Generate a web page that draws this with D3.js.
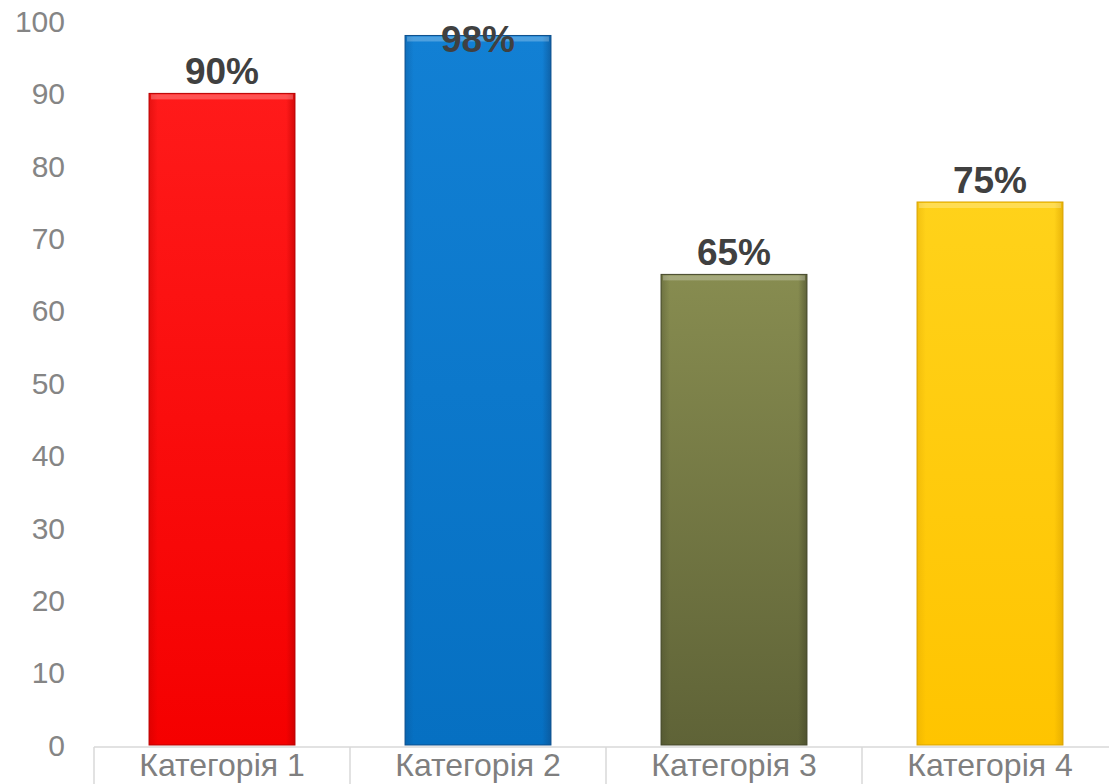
<!DOCTYPE html>
<html>
<head>
<meta charset="utf-8">
<script src="https://cdn.jsdelivr.net/npm/d3@7"></script>
<style>
  body { margin: 0; background: #fff; }
  svg { display: block; font-family: "Liberation Sans", Arial, sans-serif; }
</style>
</head>
<body>
<svg id="chart" width="1109" height="784"></svg>
<script>
// chart data
const categories = ["Категорія 1", "Категорія 2", "Категорія 3", "Категорія 4"];
const values = [90, 98, 65, 75];
const yTicks = [0, 10, 20, 30, 40, 50, 60, 70, 80, 90, 100];

// bar colours: [top, bottom, edge]
const barColors = [
  ["#ff1a1a", "#f50000", "#b80000"],
  ["#1280d4", "#0670c2", "#0d4f8c"],
  ["#878c50", "#5f6337", "#44472a"],
  ["#ffd21a", "#ffc400", "#d9a200"]
];

const svg = d3.select("#chart");
const width = +svg.attr("width");
const height = +svg.attr("height");

const x = d3.scaleBand()
  .domain(categories)
  .range([94, 1118])
  .paddingInner(0.43)
  .paddingOuter(0.215);

const y = d3.scaleLinear()
  .domain([0, 100])
  .range([745, 21]);

// gradients for the bevelled look
const defs = svg.append("defs");
barColors.forEach((c, i) => {
  const g = defs.append("linearGradient")
    .attr("id", "grad" + i)
    .attr("x1", 0).attr("y1", 0).attr("x2", 0).attr("y2", 1);
  g.append("stop").attr("offset", "0%").attr("stop-color", c[0]);
  g.append("stop").attr("offset", "100%").attr("stop-color", c[1]);

  const h = defs.append("linearGradient")
    .attr("id", "side" + i)
    .attr("x1", 0).attr("y1", 0).attr("x2", 1).attr("y2", 0);
  h.append("stop").attr("offset", "0%").attr("stop-color", c[2]).attr("stop-opacity", 0.35);
  h.append("stop").attr("offset", "6%").attr("stop-color", c[2]).attr("stop-opacity", 0);
  h.append("stop").attr("offset", "94%").attr("stop-color", c[2]).attr("stop-opacity", 0);
  h.append("stop").attr("offset", "100%").attr("stop-color", c[2]).attr("stop-opacity", 0.6);
});

// y tick labels (no axis line)
svg.append("g")
  .selectAll("text")
  .data(yTicks)
  .enter()
  .append("text")
  .attr("x", 65)
  .attr("y", d => y(d))
  .attr("dy", "0.36em")
  .attr("text-anchor", "end")
  .attr("fill", "#858585")
  .style("font-size", "30px")
  .text(d => d);

// x axis with category separators
const axisY = 747;
svg.append("line")
  .attr("x1", 94).attr("x2", width)
  .attr("y1", axisY).attr("y2", axisY)
  .attr("stroke", "#d9d9d9")
  .attr("stroke-width", 1.5);

const step = x.step();
const bounds = categories.map((c, i) => x.range()[0] + i * step).concat([x.range()[0] + categories.length * step]);
svg.selectAll(".sep")
  .data(bounds)
  .enter()
  .append("line")
  .attr("class", "sep")
  .attr("x1", d => d).attr("x2", d => d)
  .attr("y1", axisY).attr("y2", height)
  .attr("stroke", "#d9d9d9")
  .attr("stroke-width", 1.5);

// bars
const bars = svg.selectAll(".bar")
  .data(values)
  .enter()
  .append("g")
  .attr("class", "bar");

bars.append("rect")
  .attr("x", (d, i) => x(categories[i]))
  .attr("y", d => y(d))
  .attr("width", x.bandwidth())
  .attr("height", d => y(0) - y(d))
  .attr("fill", (d, i) => `url(#grad${i})`)
  .attr("stroke", (d, i) => barColors[i][2])
  .attr("stroke-width", 1);

bars.append("rect")
  .attr("x", (d, i) => x(categories[i]))
  .attr("y", d => y(d))
  .attr("width", x.bandwidth())
  .attr("height", d => y(0) - y(d))
  .attr("fill", (d, i) => `url(#side${i})`);

// top bevel highlight
bars.append("rect")
  .attr("x", (d, i) => x(categories[i]) + 2)
  .attr("y", d => y(d) + 1)
  .attr("width", x.bandwidth() - 4)
  .attr("height", 5)
  .attr("fill", "#ffffff")
  .attr("opacity", 0.25);

// value labels
bars.append("text")
  .attr("x", (d, i) => x(categories[i]) + x.bandwidth() / 2)
  .attr("y", d => Math.max(y(d) - 9, y(100) + 31))
  .attr("text-anchor", "middle")
  .attr("fill", "#404040")
  .style("font-size", "37px")
  .style("font-weight", "bold")
  .text(d => d + "%");

// category labels
svg.append("g")
  .selectAll("text")
  .data(categories)
  .enter()
  .append("text")
  .attr("x", d => x(d) + x.bandwidth() / 2)
  .attr("y", 776)
  .attr("text-anchor", "middle")
  .attr("fill", "#7f7f7f")
  .style("font-size", "32px")
  .text(d => d);
</script>
</body>
</html>
